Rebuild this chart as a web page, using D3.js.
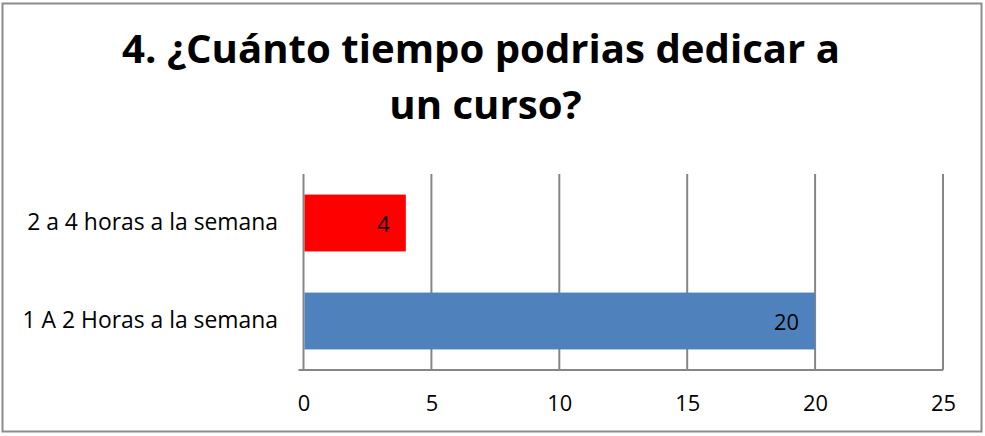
<!DOCTYPE html>
<html>
<head>
<meta charset="utf-8">
<script src="https://cdnjs.cloudflare.com/ajax/libs/d3/7.8.5/d3.min.js"></script>
<style>
  body { margin: 0; background: #fff; }
  svg { display: block; font-family: "Open Sans", sans-serif; }
</style>
</head>
<body>
<svg id="chart" width="985" height="436"></svg>
<script>
// data
var categories = ["1 A 2 Horas a la semana", "2 a 4 horas a la semana"]
var values = [20, 4]
var barColors = ["#4F81BD", "#FF0000"]
var xTicks = [0, 5, 10, 15, 20, 25]
var titleLines = ["4. ¿Cuánto tiempo podrias dedicar a", "un curso?"]

// size a text node so it is about `w` px wide (no Calibri here)
function fitWidth(sel, w) {
    sel.attr("font-size", 20)
    var len = sel.node().getComputedTextLength()
    var fs = 20 * w / len
    sel.attr("font-size", fs)
    return fs
}

var main = function() {
    var svg = d3.select("#chart")

    // outer border
    svg.append("rect")
       .attr("x", 2.5).attr("y", 3.5)
       .attr("width", 979).attr("height", 428)
       .attr("fill", "#fff")
       .attr("stroke", "#8c8c8c")
       .attr("stroke-width", 2)

    var left = 303.5, right = 943, top = 174, bottom = 370

    var x = d3.scaleLinear()
              .domain([0, 25])
              .range([left, right])

    // first category at the bottom, like excel
    var y = d3.scaleBand()
              .domain(categories.slice().reverse())
              .range([top, bottom])
              .paddingInner(0.42)
              .paddingOuter(0.21)

    // gridlines
    svg.append("g")
       .selectAll("line")
       .data(xTicks)
     .enter().append("line")
       .attr("x1", function(d) { return x(d) })
       .attr("x2", function(d) { return x(d) })
       .attr("y1", top)
       .attr("y2", bottom)
       .attr("stroke", "#868686")
       .attr("stroke-width", 2)

    // bars
    var bar = svg.append("g")
                 .selectAll("g")
                 .data(categories)
               .enter().append("g")

    bar.append("rect")
       .attr("x", x(0) + 1)
       .attr("y", function(d) { return y(d) })
       .attr("width", function(d, i) { return x(values[i]) - x(0) - 1 })
       .attr("height", y.bandwidth())
       .attr("fill", function(d, i) { return barColors[i] })

    // x axis line
    svg.append("line")
       .attr("x1", left - 5).attr("x2", right)
       .attr("y1", bottom).attr("y2", bottom)
       .attr("stroke", "#868686")
       .attr("stroke-width", 2)

    // x axis labels
    var xAxis = d3.axisBottom(x)
                  .tickValues(xTicks)
                  .tickSize(0)
                  .tickPadding(0)
    var gx = svg.append("g")
                .attr("transform", "translate(0," + 403.5 + ")")
                .call(xAxis)
    gx.select(".domain").remove()
    gx.selectAll("text")
      .attr("dy", ".35em")
      .attr("y", 0)
      .attr("font-family", "'Open Sans', sans-serif")
      .attr("fill", "#000")
    var tickSize = fitWidth(gx.selectAll("text").filter(function(d) { return d == 10 }), 25)
    gx.selectAll("text").attr("font-size", tickSize)

    // data labels, same size as tick labels
    bar.append("text")
       .attr("x", function(d, i) { return x(values[i]) - 16 })
       .attr("y", function(d) { return y(d) + y.bandwidth() / 2 + 1.5 })
       .attr("dy", ".35em")
       .attr("text-anchor", "end")
       .attr("font-size", tickSize)
       .attr("fill", "#000")
       .text(function(d, i) { return values[i] })

    // category labels
    var yAxis = d3.axisLeft(y)
                  .tickSize(0)
                  .tickPadding(0)
    var gy = svg.append("g")
                .attr("transform", "translate(" + 278 + ",0)")
                .call(yAxis)
    gy.select(".domain").remove()
    gy.selectAll("text")
      .attr("font-family", "'Open Sans', sans-serif")
      .attr("fill", "#000")
    var catSize = fitWidth(gy.selectAll("text").filter(function(d) { return d == categories[1] }), 251)
    gy.selectAll("text").attr("font-size", catSize)

    // title
    var title = svg.append("g")
                   .selectAll("text")
                   .data(titleLines)
                 .enter().append("text")
                   .attr("x", function(d, i) { return i == 0 ? 481 : 485.5 })
                   .attr("y", function(d, i) { return 63 + i * 56 })
                   .attr("text-anchor", "middle")
                   .attr("font-weight", "bold")
                   .attr("fill", "#000")
                   .text(function(d) { return d })
    var titleSize = fitWidth(title.filter(function(d, i) { return i == 0 }), 718)
    title.attr("font-size", titleSize)
}

main()
</script>
</body>
</html>
